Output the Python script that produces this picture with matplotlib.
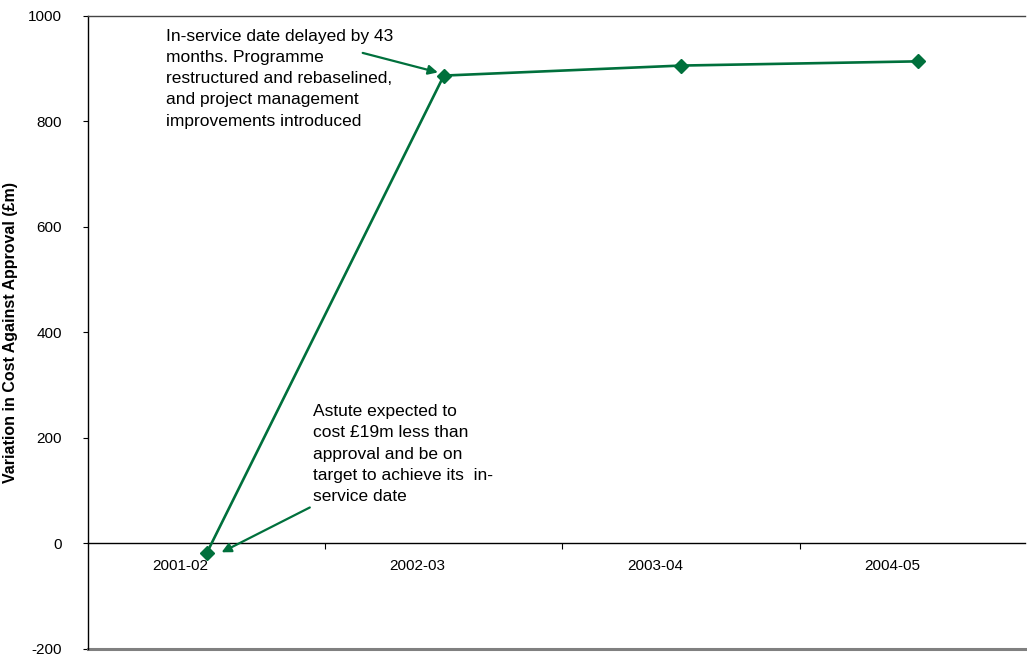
import matplotlib
matplotlib.use("Agg")
import matplotlib.pyplot as plt
from matplotlib.ticker import FixedLocator

plt.rcParams['font.family'] = ['Liberation Sans', 'DejaVu Sans']

categories = ['2001-02', '2002-03', '2003-04', '2004-05']
values = [-19, 887, 906, 914]
yticks = [-200, 0, 200, 400, 600, 800, 1000]

note1 = ("In-service date delayed by 43\nmonths. Programme\nrestructured and rebaselined,\n"
         "and project management\nimprovements introduced")
note2 = ("Astute expected to\ncost \u00a319m less than\napproval and be on\n"
         "target to achieve its  in-\nservice date")

green = '#00703C'

fig = plt.figure(figsize=(10.27, 6.57), dpi=100)
ax = fig.add_axes([88/1027, 1-648.8/657, (1025-88)/1027, (648.8-16)/657])

x = list(range(len(categories)))
ax.plot(x, values, color=green, lw=1.9, marker='D', markersize=7.5, zorder=3)

ax.set_xlim(-0.5, 3.45)
ax.set_ylim(-200, 1000)
ax.set_yticks(yticks)
ax.set_yticklabels([str(v) for v in yticks])

# category labels sit slightly left of the category centres in the original
label_offset = -0.11
ax.set_xticks([i + label_offset for i in x])
ax.set_xticklabels(categories)
ax.xaxis.set_minor_locator(FixedLocator([i + 0.5 for i in x[:-1]]))
ax.tick_params(axis='x', which='major', length=0, pad=11, labelsize=11)
ax.tick_params(axis='x', which='minor', length=4, direction='out', color='black', width=0.8)
ax.tick_params(axis='y', length=3.6, direction='out', pad=15, labelsize=11, width=0.8)

ax.spines['bottom'].set_position(('data', 0))
ax.spines['bottom'].set_color('black')
ax.spines['bottom'].set_linewidth(1.0)
ax.spines['right'].set_visible(False)
ax.spines['top'].set_color('#444444')
ax.spines['top'].set_linewidth(1.0)
ax.spines['left'].set_color('black')
ax.spines['left'].set_linewidth(1.0)
ax.axhline(-200, color='#808080', lw=2.2, clip_on=False, zorder=2)

ax.set_ylabel('Variation in Cost Against Approval (\u00a3m)', fontsize=11.5, fontweight='bold')
ax.yaxis.set_label_coords(-0.0747, 0.5)

ax.text(-0.173, 976, note1, fontsize=12.5, va='top', ha='left', linespacing=1.52)
ax.text(0.447, 264, note2, fontsize=12.5, va='top', ha='left', linespacing=1.52)

arrow = dict(arrowstyle='-|>', color=green, lw=1.6, mutation_scale=14, shrinkA=0, shrinkB=0)
ax.annotate('', xy=(0.975, 893), xytext=(0.658, 930), arrowprops=arrow)
ax.annotate('', xy=(0.063, -17), xytext=(0.435, 68), arrowprops=arrow)

fig.savefig('out.png', dpi=100)
